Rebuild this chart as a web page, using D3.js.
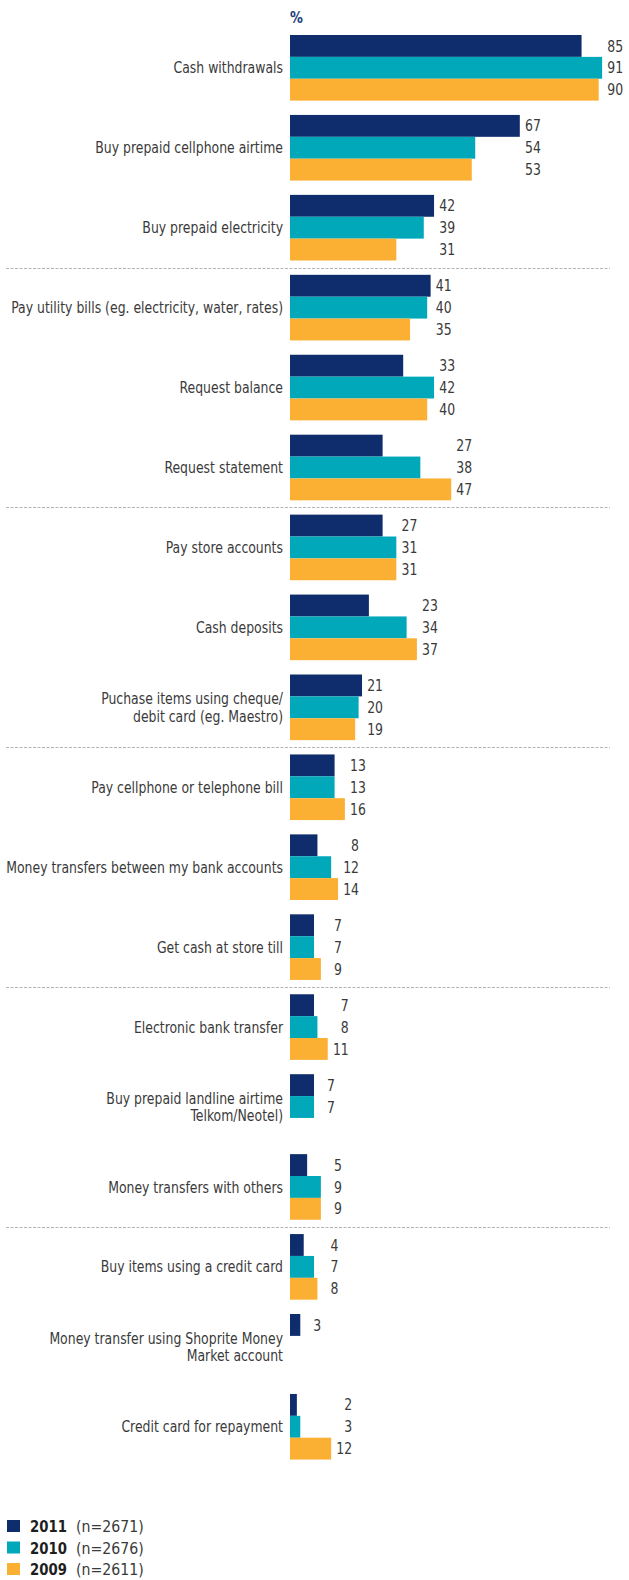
<!DOCTYPE html>
<html>
<head>
<meta charset="utf-8">
<script src="https://cdn.jsdelivr.net/npm/d3@7"></script>
<style>
  html, body { margin: 0; padding: 0; background: #fff; }
  svg text { font-family: "Liberation Sans Narrow", "Arial Narrow", "DejaVu Sans Condensed", sans-serif; }
</style>
</head>
<body>
<svg id="chart" width="629" height="1580"></svg>
<script>
// Banking activities, share of respondents (%), by survey year
const categories = [
  "Cash withdrawals",
  "Buy prepaid cellphone airtime",
  "Buy prepaid electricity",
  "Pay utility bills (eg. electricity, water, rates)",
  "Request balance",
  "Request statement",
  "Pay store accounts",
  "Cash deposits",
  "Puchase items using cheque/\ndebit card (eg. Maestro)",
  "Pay cellphone or telephone bill",
  "Money transfers between my bank accounts",
  "Get cash at store till",
  "Electronic bank transfer",
  "Buy prepaid landline airtime\nTelkom/Neotel)",
  "Money transfers with others",
  "Buy items using a credit card",
  "Money transfer using Shoprite Money\nMarket account",
  "Credit card for repayment"
];
const years = ["2011", "2010", "2009"];
const sampleSizes = ["(n=2671)", "(n=2676)", "(n=2611)"];
const values2011 = [85, 67, 42, 41, 33, 27, 27, 23, 21, 13, 8, 7, 7, 7, 5, 4, 3, 2];
const values2010 = [91, 54, 39, 40, 42, 38, 31, 34, 20, 13, 12, 7, 8, 7, 9, 7, null, 3];
const values2009 = [90, 53, 31, 35, 40, 47, 31, 37, 19, 16, 14, 9, 11, null, 9, 8, null, 12];
// dividers are drawn after these category indices
const dividerAfter = [2, 5, 8, 11, 14];
const unitLabel = "%";

const colors = { "2011": "#0f2d6c", "2010": "#00a8ba", "2009": "#fbb034" };
const seriesByYear = { "2011": values2011, "2010": values2010, "2009": values2009 };

const rows = categories.map((c, i) => ({
  category: c,
  values: years.map(y => ({ year: y, value: seriesByYear[y][i] }))
}));

const svg = d3.select("#chart");
const x0 = 290;
const labelRight = 283;
const x = d3.scaleLinear().domain([0, 100]).range([x0, x0 + 343]);
const y = d3.scaleBand()
  .domain(categories)
  .range([35, 35 + 17 * 79.94 + 65.6])
  .paddingInner(0.179)
  .paddingOuter(0);
const yInner = d3.scaleBand().domain(years).range([0, y.bandwidth()]);

// the typeface is narrow; squeeze the available font horizontally to the same set width
const probe = svg.append("text")
  .attr("font-size", 15.5)
  .text("Pay utility bills (eg. electricity, water, rates)");
const squeeze = Math.min(1, 272 / probe.node().getComputedTextLength());
probe.remove();

// dashed dividers between blocks of categories
svg.append("g").selectAll("line")
  .data(dividerAfter)
  .join("line")
  .attr("x1", 6).attr("x2", 610)
  .attr("y1", i => Math.round((y(categories[i]) + y.bandwidth() + y(categories[i + 1])) / 2) + 0.5)
  .attr("y2", i => Math.round((y(categories[i]) + y.bandwidth() + y(categories[i + 1])) / 2) + 0.5)
  .attr("stroke", "#b3b3b3")
  .attr("stroke-width", 1)
  .attr("stroke-dasharray", "3,1.5");

// unit label above the bars
svg.append("text")
  .attr("transform", `translate(${x0},23) scale(${squeeze},1)`)
  .attr("fill", "#1b3a78")
  .attr("font-size", 16)
  .attr("font-weight", "bold")
  .text(unitLabel);

const groups = svg.append("g").selectAll("g.row")
  .data(rows)
  .join("g")
  .attr("class", "row")
  .attr("transform", d => `translate(0,${y(d.category)})`);

groups.selectAll("rect")
  .data(d => d.values.filter(v => v.value != null))
  .join("rect")
  .attr("x", x(0))
  .attr("y", d => yInner(d.year))
  .attr("width", d => x(d.value) - x(0))
  .attr("height", yInner.bandwidth())
  .attr("fill", d => colors[d.year]);

// value labels, right-aligned in a column just past the longest bar of each category
groups.each(function(d) {
  const maxV = d3.max(d.values, v => v.value);
  const colX = x(maxV) + 21;
  d3.select(this).selectAll("text.val")
    .data(d.values.filter(v => v.value != null))
    .join("text")
    .attr("class", "val")
    .attr("transform", v => `translate(${colX},${yInner(v.year) + yInner.bandwidth() / 2}) scale(${squeeze},1)`)
    .attr("dy", "0.36em")
    .attr("text-anchor", "end")
    .attr("font-size", 15.5)
    .attr("fill", "#3a3a3a")
    .text(v => v.value);
});

// category labels
groups.append("text")
  .attr("class", "cat")
  .attr("transform", `translate(${labelRight},${y.bandwidth() / 2}) scale(${squeeze},1)`)
  .attr("text-anchor", "end")
  .attr("font-size", 15.5)
  .attr("fill", "#3a3a3a")
  .each(function(d) {
    const lines = d.category.split("\n");
    const lh = 17.5;
    const t = d3.select(this);
    lines.forEach((ln, k) => {
      t.append("tspan")
        .attr("x", 0)
        .attr("y", (k - (lines.length - 1) / 2) * lh)
        .attr("dy", "0.36em")
        .text(ln);
    });
  });

// legend
const legend = svg.append("g").selectAll("g")
  .data(years)
  .join("g")
  .attr("transform", (d, i) => `translate(7,${1520 + i * 21.5})`);
legend.append("rect")
  .attr("width", 13).attr("height", 12)
  .attr("fill", d => colors[d]);
legend.append("text")
  .attr("transform", `translate(23,12) scale(${squeeze},1)`)
  .attr("font-size", 16.5)
  .attr("font-weight", "bold")
  .attr("fill", "#1e1e1e")
  .text(d => d);
legend.append("text")
  .attr("transform", `translate(69,12) scale(${squeeze * 1.1},1)`)
  .attr("font-size", 16)
  .attr("fill", "#3a3a3a")
  .text((d, i) => sampleSizes[i]);
</script>
</body>
</html>
